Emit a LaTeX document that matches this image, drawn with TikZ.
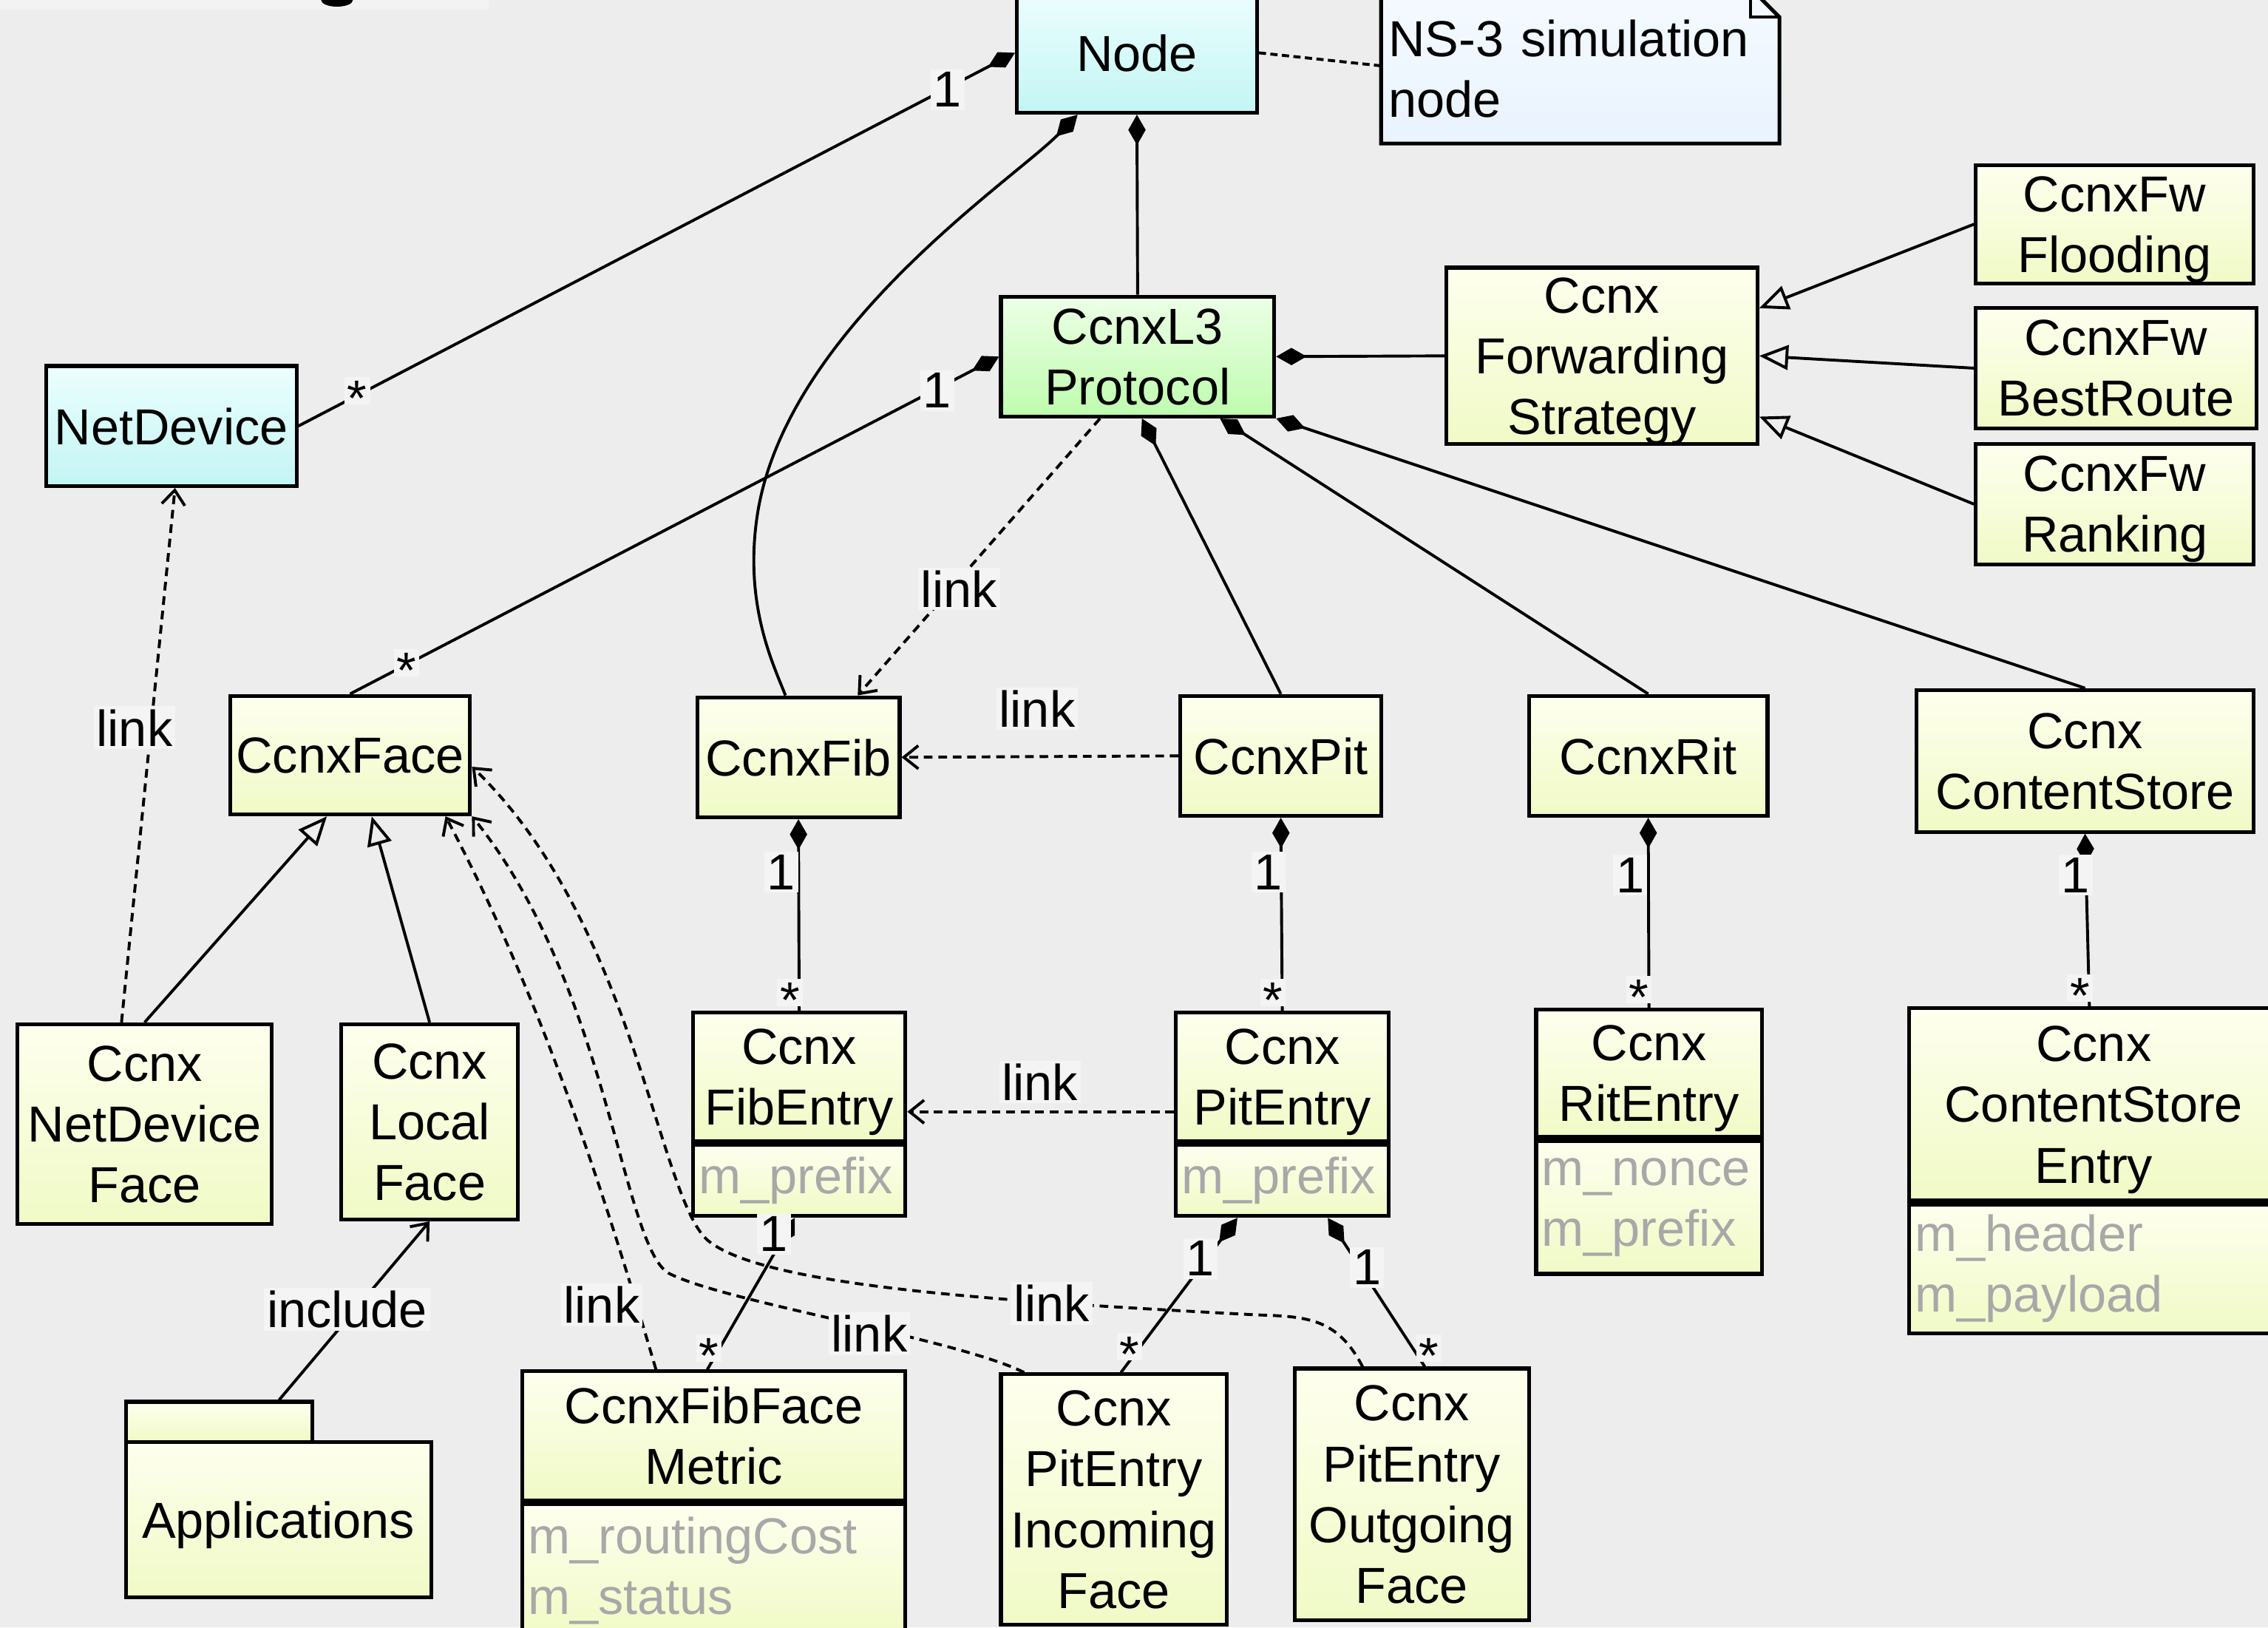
\documentclass[tikz,border=0pt]{standalone}
\usepackage{xcolor}
\usepackage{fontspec}
\setmainfont{Liberation Sans}
\usepackage{tikz}
\usetikzlibrary{arrows.meta}

\definecolor{bgcol}{HTML}{EDEDED}
\definecolor{stripcol}{HTML}{F3F3F3}
\definecolor{lblcol}{HTML}{F4F4F4}
\definecolor{yeltop}{HTML}{FEFFEE}
\definecolor{yelbot}{HTML}{F0FAC6}
\definecolor{cyantop}{HTML}{ECFEFE}
\definecolor{cyanbot}{HTML}{C2F5F4}
\definecolor{greentop}{HTML}{ECFFE6}
\definecolor{greenbot}{HTML}{BEFCAE}
\definecolor{notetop}{HTML}{F5FAFF}
\definecolor{notebot}{HTML}{E9F3FE}
\definecolor{attrcol}{HTML}{A8A8A8}

\newcommand{\many}{\raisebox{-10pt}[15pt][0pt]{*}}

\begin{document}
\begin{tikzpicture}[x=1pt,y=-1pt,every node/.style={font=\fontsize{35}{42}\selectfont},
    boxbase/.style={draw,line width=2.6pt,top color=yeltop,bottom color=yelbot,inner sep=0pt},
    cls/.style={boxbase,align=center,text depth=0pt},
    dev/.style={cls,top color=cyantop,bottom color=cyanbot},
    proto/.style={cls,top color=greentop,bottom color=greenbot},
    attr/.style={boxbase,anchor=north,align=left,inner xsep=4pt,text=attrcol},
    notebox/.style={top color=notetop,bottom color=notebot,align=left,inner xsep=5pt,inner ysep=0pt},
    lbl/.style={fill=lblcol,inner sep=2pt},
    conn/.style={line width=2pt},
    comp/.style={conn,{Diamond[length=21pt,width=12pt]}-},
    gen/.style={conn,-{Triangle[open,length=20pt,width=17pt]}},
    link/.style={conn,dash pattern=on 6pt off 4pt,-{Straight Barb[length=10pt,width=16pt]}}]
  \useasboundingbox[fill=bgcol] (0,0) rectangle (1568,1125);
  % what is left of the page title
  \fill[stripcol] (0,0) rectangle (338,6.5);
  \fill (233,0) ellipse [x radius=11,y radius=4.6];

  % classes
  \node[dev,minimum width=166pt,minimum height=83pt] (ns3node) at (786,36.5) {Node};
  \node[notebox,text width=265pt,minimum height=107pt] (note) at (1092.5,45.5) {\strut NS-3 simulation\\node};
  \fill[bgcol] ([xshift=-20pt]note.north east) -- (note.north east) -- ([yshift=-20pt]note.north east) -- cycle;
  \draw[line width=2.6pt] (note.north west) -- ([xshift=-20pt]note.north east) -- ([yshift=-20pt]note.north east) -- (note.south east) -- (note.south west) -- cycle;
  \draw[line width=2pt] ([xshift=-20pt]note.north east) |- ([yshift=-20pt]note.north east);
  \node[dev,minimum width=173pt,minimum height=83pt] (netdev) at (118.5,294.5) {NetDevice};
  \node[proto,minimum width=189pt,minimum height=83pt] (l3) at (786.5,246.5) {CcnxL3\\Protocol};
  \node[cls,minimum width=215pt,minimum height=122pt] (strat) at (1107.5,246) {Ccnx\\Forwarding\\Strategy};
  \node[cls,minimum width=192pt,minimum height=82pt] (flood) at (1462,155) {CcnxFw\\Flooding};
  \node[cls,minimum width=194pt,minimum height=83pt] (best) at (1463,254.5) {CcnxFw\\BestRoute};
  \node[cls,minimum width=192pt,minimum height=83pt] (rank) at (1462,348.5) {CcnxFw\\Ranking};
  \node[cls,minimum width=166pt,minimum height=82pt] (face) at (242,522) {CcnxFace};
  \node[cls,minimum width=140pt,minimum height=83pt] (fib) at (552,523.5) {CcnxFib};
  \node[cls,minimum width=139pt,minimum height=83pt] (pit) at (885.5,522.5) {CcnxPit};
  \node[cls,minimum width=165pt,minimum height=83pt] (rit) at (1139.5,522.5) {CcnxRit};
  \node[cls,minimum width=233pt,minimum height=98pt] (cs) at (1441.5,526) {Ccnx\\ContentStore};
  \node[cls,minimum width=176pt,minimum height=138pt] (ndface) at (100,777) {Ccnx\\NetDevice\\Face};
  \node[cls,minimum width=122pt,minimum height=135pt] (localface) at (297,775.5) {Ccnx\\Local\\Face};
  \node[cls,minimum width=147pt,minimum height=89pt] (fibentry) at (552.5,744.5) {Ccnx\\FibEntry};
  \node[attr,text width=139pt,minimum height=49pt] (fibattr) at (fibentry.south) {m\_prefix};
  \node[cls,minimum width=147pt,minimum height=89pt] (pitentry) at (886.5,744.5) {Ccnx\\PitEntry};
  \node[attr,text width=139pt,minimum height=49pt] (pitattr) at (pitentry.south) {m\_prefix};
  \node[cls,minimum width=156pt,minimum height=88pt] (ritentry) at (1140,742) {Ccnx\\RitEntry};
  \node[attr,text width=148pt,minimum height=92pt] (ritattr) at (ritentry.south) {m\_nonce\\m\_prefix};
  \node[cls,minimum width=255pt,minimum height=133pt] (csentry) at (1447.5,763.5) {Ccnx\\ContentStore\\Entry};
  \node[attr,text width=247pt,minimum height=89pt] (csattr) at (csentry.south) {m\_header\\m\_payload};
  \node[cls,minimum width=265pt,minimum height=89pt] (metric) at (493.5,992.5) {CcnxFibFace\\Metric};
  \node[attr,text width=257pt,minimum height=92pt] (metricattr) at (metric.south) {m\_routingCost\\m\_status};
  \node[cls,minimum width=156pt,minimum height=173pt] (incoming) at (770,1036.5) {Ccnx\\PitEntry\\Incoming\\Face};
  \node[cls,minimum width=162pt,minimum height=174pt] (outgoing) at (976,1033) {Ccnx\\PitEntry\\Outgoing\\Face};
  \node[cls,minimum width=129pt,minimum height=28pt] (apptab) at (151.5,983) {};
  \node[cls,minimum width=211pt,minimum height=107pt] (app) at (192.5,1050.5) {Applications};

  % associations
  \draw[comp] (ns3node.west) -- (netdev.east);
  \draw[comp] ([xshift=-41pt]ns3node.south) .. controls (700,125) and (540,230) .. (523,360) .. controls (515,420) and (535,460) .. ([xshift=-9pt]fib.north);
  \draw[comp] (ns3node.south) -- (l3.north);
  \draw[conn,dash pattern=on 5pt off 3pt] (ns3node.east) -- (note.west);
  \draw[comp] (l3.west) -- (face.north);
  \draw[link] ([xshift=-26pt]l3.south) -- ([xshift=41pt]fib.north);
  \draw[comp] ([xshift=3pt]l3.south) -- (pit.north);
  \draw[comp] ([xshift=57pt]l3.south) -- (rit.north);
  \draw[comp] (l3.south east) -- (cs.north);
  \draw[comp] (l3.east) -- (strat.west);
  \draw[gen] (flood.west) -- ([yshift=33pt]strat.east);
  \draw[gen] (best.west) -- (strat.east);
  \draw[gen] (rank.west) -- ([yshift=-42pt]strat.east);
  \draw[link] (pit.west) -- (fib.east);
  \draw[comp] (fib.south) -- (fibentry.north);
  \draw[comp] (pit.south) -- (pitentry.north);
  \draw[comp] (rit.south) -- (ritentry.north);
  \draw[comp] (cs.south) -- ([xshift=-3pt]csentry.north);
  \draw[link] ([yshift=-24pt]pitentry.west) -- ([yshift=-24pt]fibentry.east);
  \draw[link] ([xshift=-16pt]ndface.north) -- ([xshift=2.5pt]netdev.south);
  \draw[gen] (ndface.north) -- ([xshift=-16pt]face.south);
  \draw[gen] (localface.north) -- ([xshift=15pt]face.south);
  \draw[conn,-{Straight Barb[length=10pt,width=16pt]}] ([xshift=41.5pt]apptab.north) -- (localface.south);
  \draw[comp] ([xshift=-3pt]fibattr.south) -- ([xshift=-4.5pt]metric.north);
  \draw[comp] ([xshift=-31pt]pitattr.south) -- ([xshift=5pt]incoming.north);
  \draw[comp] ([xshift=31.5pt]pitattr.south) -- ([xshift=9pt]outgoing.north);
  \draw[link] ([xshift=-40pt]metric.north) .. controls (425,850) and (380,700) .. ([xshift=66pt]face.south);
  \draw[link] ([xshift=-62pt]incoming.north) .. controls (660,925) and (500,900) .. (462,880) .. controls (430,860) and (420,680) .. (face.south east);
  \draw[link] ([xshift=-34pt]outgoing.north) .. controls (925,912) and (905,910) .. (870,909) .. controls (700,900) and (530,890) .. (490,858) .. controls (455,830) and (440,640) .. ([yshift=-8pt]face.east);

  % multiplicities and link labels
  \node[lbl] (m1) at (655,62) {1};
  \node[lbl] (m2) at (247,270) {\many};
  \node[lbl] (m3) at (648,270) {1};
  \node[lbl] (m4) at (281,458) {\many};
  \node[lbl] (m5) at (540,603) {1};
  \node[lbl] (m6) at (546,686) {\many};
  \node[lbl] (m7) at (877,603) {1};
  \node[lbl] (m8) at (880,686) {\many};
  \node[lbl] (m9) at (1127,605) {1};
  \node[lbl] (m10) at (1133,684) {\many};
  \node[lbl] (m11) at (1435,605) {1};
  \node[lbl] (m12) at (1438,683) {\many};
  \node[lbl] (m13) at (535,853) {1};
  \node[lbl] (m14) at (490,932) {\many};
  \node[lbl] (m15) at (830,870) {1};
  \node[lbl] (m16) at (781,931) {\many};
  \node[lbl] (m17) at (945,876) {1};
  \node[lbl] (m18) at (988,932) {\many};
  \node[lbl] (l1) at (663,407) {link};
  \node[lbl] (l2) at (717,490) {link};
  \node[lbl] (l3lbl) at (719,748) {link};
  \node[lbl] (l4) at (93,503) {link};
  \node[lbl] (l5) at (416,902) {link};
  \node[lbl] (l6) at (601,922) {link};
  \node[lbl] (l7) at (727,901) {link};
  \node[lbl] (inc) at (240,905) {include};
\end{tikzpicture}
\end{document}
